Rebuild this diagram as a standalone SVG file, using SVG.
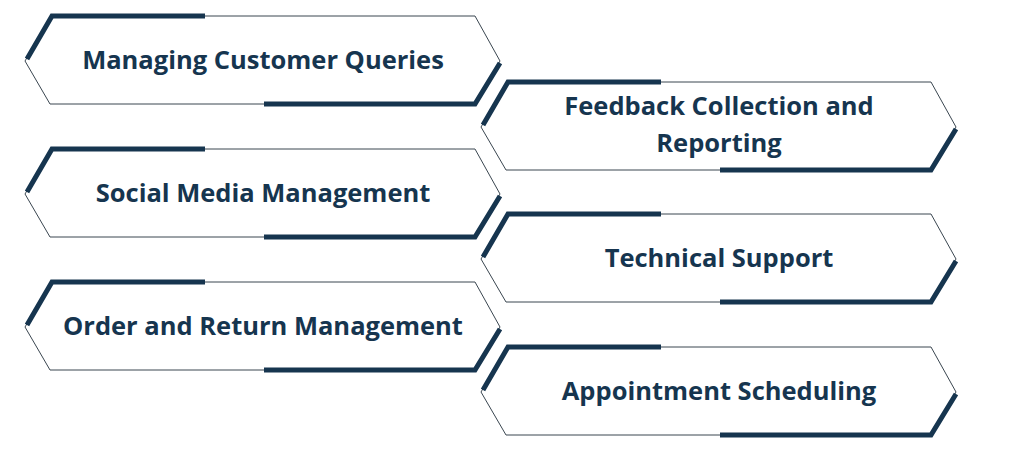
<svg xmlns="http://www.w3.org/2000/svg" width="1024" height="453" viewBox="0 0 1024 453">
<style>
.thin{fill:none;stroke:#3a4650;stroke-width:1}
.thick{fill:none;stroke:#16354f;stroke-width:5;stroke-linecap:butt}
text{font-family:"Open Sans","DejaVu Sans",sans-serif;font-weight:bold;font-size:25.5px;fill:#16354f;text-anchor:middle}
</style>
<defs>
<g id="hex">
<path class="thin" d="M52,0 H475 L500,45 L475,88 H50 L25,45 Z"/>
<path class="thick" d="M27,43 L52,0 H205"/>
<path class="thick" d="M264,88 H475 L500,47"/>
</g>
</defs>
<rect width="1024" height="453" fill="#fff"/>
<g id="n1"><use href="#hex" y="16"/><text x="263" y="69">Managing Customer Queries</text></g>
<g id="n2"><use href="#hex" x="456" y="82"/><text x="719" y="115">Feedback Collection and</text><text x="719" y="152">Reporting</text></g>
<g id="n3"><use href="#hex" y="149"/><text x="263" y="202">Social Media Management</text></g>
<g id="n4"><use href="#hex" x="456" y="214"/><text x="719" y="267">Technical Support</text></g>
<g id="n5"><use href="#hex" y="282"/><text x="263" y="335">Order and Return Management</text></g>
<g id="n6"><use href="#hex" x="456" y="347"/><text x="719" y="400">Appointment Scheduling</text></g>
<g id="connectors"/>
</svg>
